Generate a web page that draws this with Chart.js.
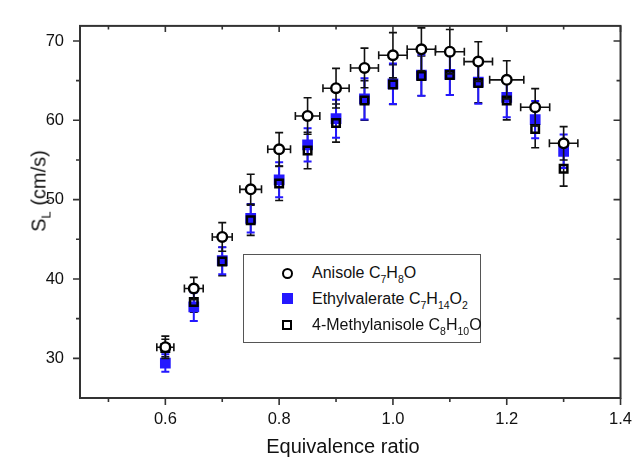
<!DOCTYPE html>
<html>
<head>
<meta charset="utf-8">
<script src="https://cdn.jsdelivr.net/npm/chart.js@4.4.1/dist/chart.umd.min.js"></script>
<style>
  body { margin: 0; background: #fff; }
  #wrap { position: relative; width: 644px; height: 464px; font-family: "Liberation Sans", Arial, sans-serif; color: #111; }
  #c { position: absolute; left: 0; top: 0; }
  .atitle { position: absolute; font-size: 20px; line-height: 23px; white-space: nowrap; }
  #ytitle { left: 39px; top: 191px; transform: translate(-50%, -50%) rotate(-90deg); }
  #xtitle { left: 343px; top: 446px; transform: translate(-50%, -50%); }
  .atitle sub, #legend sub { line-height: 0; }
  #ytitle sub { font-size: 13px; vertical-align: -5px; }
  #legend { position: absolute; left: 243px; top: 254px; width: 238px; height: 89px; border: 1px solid #555; box-sizing: border-box; background: #fff; }
  .lrow { position: absolute; left: 0; height: 20px; width: 236px; }
  .lsym { position: absolute; box-sizing: border-box; }
  .ltxt { position: absolute; left: 68px; top: 0; font-size: 16px; line-height: 20px; white-space: nowrap; color: #111; }
  #legend sub { font-size: 10.5px; vertical-align: -5px; }
</style>
</head>
<body>
<div id="wrap">
  <canvas id="c" width="644" height="464"></canvas>
  <div id="ytitle" class="atitle">S<sub>L</sub> (cm/s)</div>
  <div id="xtitle" class="atitle">Equivalence ratio</div>
  <div id="legend"></div>
</div>
<script>
// ---------- data ----------
const phi = [0.6, 0.65, 0.7, 0.75, 0.8, 0.85, 0.9, 0.95, 1.0, 1.05, 1.1, 1.15, 1.2, 1.25, 1.3];

const anisole     = [31.4, 38.8, 45.3, 51.3, 56.35, 60.55, 64.05, 66.6, 68.2, 68.95, 68.65, 67.4, 65.1, 61.65, 57.1];
const anisoleErrY = [1.4, 1.4, 1.8, 1.9, 2.1, 2.3, 2.5, 2.5, 2.85, 2.7, 2.8, 2.5, 2.4, 2.35, 2.1];
const anisoleErrX = [0.015, 0.0165, 0.0175, 0.019, 0.02, 0.0215, 0.023, 0.0245, 0.025, 0.025, 0.0255, 0.025, 0.03, 0.0255, 0.025];

const ethylvalerate    = [29.4, 36.5, 42.3, 47.65, 52.5, 56.9, 60.2, 62.7, 64.6, 65.7, 65.8, 64.8, 62.9, 60.1, 56.1];
const ethylvalerateErr = [1.1, 1.8, 1.7, 1.8, 2.2, 2.1, 2.4, 2.6, 2.55, 2.6, 2.6, 2.7, 2.5, 2.35, 2.1];

const methylanisole    = [31.3, 37.1, 42.2, 47.4, 52.05, 56.2, 59.65, 62.5, 64.5, 65.6, 65.7, 64.7, 62.5, 58.9, 53.9];
const methylanisoleErr = [1.1, 1.3, 1.8, 1.9, 2.15, 2.3, 2.4, 2.5, 2.5, 2.5, 2.5, 2.5, 2.45, 2.35, 2.2];

const seriesLabels = ['Anisole C₇H₈O', 'Ethylvalerate C₇H₁₄O₂', '4-Methylanisole C₈H₁₀O'];

const xMajorTicks = [0.6, 0.8, 1.0, 1.2, 1.4];
const xMinorTicks = [0.5, 0.7, 0.9, 1.1, 1.3];
const xTickLabels = ['0.6', '0.8', '1.0', '1.2', '1.4'];
const yMajorTicks = [30, 40, 50, 60, 70];
const yMinorTicks = [35, 45, 55, 65];
const yTickLabels = ['30', '40', '50', '60', '70'];

const xMin = 0.45, xMax = 1.4, yMin = 25, yMax = 71.9;
const BLUE = '#2418ff';

// ---------- plugins ----------
function drawErrors(chart, ds) {
  const xs = chart.scales.x, ys = chart.scales.y, a = chart.chartArea;
  const c = chart.ctx;
  c.save();
  c.beginPath(); c.rect(a.left, a.top, a.right - a.left, a.bottom - a.top); c.clip();
  c.strokeStyle = ds.errColor; c.lineWidth = ds.errWidth; c.lineCap = 'butt';
  const cap = 4;
  ds.data.forEach((p, i) => {
    const px = xs.getPixelForValue(p.x), py = ys.getPixelForValue(p.y);
    c.beginPath();
    if (ds.errY) {
      const t = ys.getPixelForValue(p.y + ds.errY[i]), b = ys.getPixelForValue(p.y - ds.errY[i]);
      c.moveTo(px, t); c.lineTo(px, b);
      c.moveTo(px - cap, t); c.lineTo(px + cap, t);
      c.moveTo(px - cap, b); c.lineTo(px + cap, b);
    }
    if (ds.errX) {
      const l = xs.getPixelForValue(p.x - ds.errX[i]), r = xs.getPixelForValue(p.x + ds.errX[i]);
      c.moveTo(l, py); c.lineTo(r, py);
      c.moveTo(l, py - cap); c.lineTo(l, py + cap);
      c.moveTo(r, py - cap); c.lineTo(r, py + cap);
    }
    c.stroke();
  });
  c.restore();
}

const errorBars = {
  id: 'errorBars',
  // square-series error bars go under all symbols (methylanisole first, ethylvalerate over it)
  beforeDatasetsDraw(chart) {
    const d = chart.data.datasets;
    drawErrors(chart, d[2]);
    drawErrors(chart, d[1]);
  },
  // anisole error bars drawn just before the circles, over the squares
  beforeDatasetDraw(chart, args) {
    if (args.index === 0) drawErrors(chart, chart.data.datasets[0]);
  }
};

const frameTicks = {
  id: 'frameTicks',
  afterDraw(chart) {
    const xs = chart.scales.x, ys = chart.scales.y, a = chart.chartArea;
    const c = chart.ctx;
    c.save();
    c.strokeStyle = '#333'; c.lineWidth = 2;
    c.strokeRect(a.left, a.top, a.right - a.left, a.bottom - a.top);
    c.lineWidth = 1.6;
    c.beginPath();
    xMajorTicks.forEach(v => { const x = xs.getPixelForValue(v);
      c.moveTo(x, a.bottom); c.lineTo(x, a.bottom + 7);
      c.moveTo(x, a.top); c.lineTo(x, a.top + 6); });
    xMinorTicks.forEach(v => { const x = xs.getPixelForValue(v);
      c.moveTo(x, a.bottom); c.lineTo(x, a.bottom + 4);
      c.moveTo(x, a.top); c.lineTo(x, a.top + 3.5); });
    yMajorTicks.forEach(v => { const y = ys.getPixelForValue(v);
      c.moveTo(a.left, y); c.lineTo(a.left - 7, y);
      c.moveTo(a.right, y); c.lineTo(a.right - 7, y); });
    yMinorTicks.forEach(v => { const y = ys.getPixelForValue(v);
      c.moveTo(a.left, y); c.lineTo(a.left - 4, y);
      c.moveTo(a.right, y); c.lineTo(a.right - 4, y); });
    c.stroke();
    c.restore();
  }
};

const font = { family: '"Liberation Sans", Arial, sans-serif', size: 16.5 };

const chart = new Chart(document.getElementById('c'), {
  type: 'scatter',
  data: {
    datasets: [
      { label: seriesLabels[0], data: phi.map((x, i) => ({ x, y: anisole[i] })),
        pointStyle: 'circle', pointRadius: 4.8, pointBorderWidth: 2.4,
        borderColor: '#000', backgroundColor: '#fff', order: 0,
        errY: anisoleErrY, errX: anisoleErrX, errColor: '#111', errWidth: 1.6 },
      { label: seriesLabels[1], data: phi.map((x, i) => ({ x, y: ethylvalerate[i] })),
        pointStyle: 'rect', pointRadius: 7.6, pointBorderWidth: 0,
        borderColor: BLUE, backgroundColor: BLUE, order: 2,
        errY: ethylvalerateErr, errColor: BLUE, errWidth: 2 },
      { label: seriesLabels[2], data: phi.map((x, i) => ({ x, y: methylanisole[i] })),
        pointStyle: 'rect', pointRadius: 5.3, pointBorderWidth: 2.5,
        borderColor: '#000', backgroundColor: 'rgba(0,0,0,0)', order: 1,
        errY: methylanisoleErr, errColor: '#111', errWidth: 1.6 }
    ]
  },
  options: {
    responsive: false, animation: false, devicePixelRatio: 1, events: [],
    layout: { padding: { left: 0, right: 17, top: 9, bottom: 0 } },
    plugins: { legend: { display: false }, tooltip: { enabled: false } },
    scales: {
      x: {
        type: 'linear', min: xMin, max: xMax,
        afterBuildTicks: s => { s.ticks = xMajorTicks.map(v => ({ value: v })); },
        afterFit: s => { s.height = 66; },
        grid: { display: false, drawTicks: false }, border: { display: false },
        ticks: { font, color: '#111', padding: 12, maxRotation: 0, autoSkip: false,
                 callback: (v, i) => xTickLabels[i] }
      },
      y: {
        type: 'linear', min: yMin, max: yMax,
        afterBuildTicks: s => { s.ticks = yMajorTicks.map(v => ({ value: v })); },
        afterFit: s => { s.width = 80; },
        grid: { display: false, drawTicks: false }, border: { display: false },
        ticks: { font, color: '#111', padding: 16, autoSkip: false,
                 callback: (v, i) => yTickLabels[i] }
      }
    }
  },
  plugins: [errorBars, frameTicks]
});

// ---------- HTML legend built from datasets ----------
const subMap = { '₀':'0','₁':'1','₂':'2','₃':'3','₄':'4','₅':'5','₆':'6','₇':'7','₈':'8','₉':'9' };
function toHtml(s) {
  return s.replace(/[₀-₉]+/g, m => '<sub>' + m.split('').map(ch => subMap[ch]).join('') + '</sub>');
}
const legend = document.getElementById('legend');
const rowCenters = [18, 43.5, 70];
chart.data.datasets.forEach((ds, i) => {
  const row = document.createElement('div');
  row.className = 'lrow';
  row.style.top = (rowCenters[i] - 10) + 'px';
  const sym = document.createElement('span');
  sym.className = 'lsym';
  let size;
  if (ds.pointStyle === 'circle') {
    size = 11; sym.style.borderRadius = '50%';
    sym.style.border = '2.4px solid ' + ds.borderColor; sym.style.background = ds.backgroundColor;
  } else if (ds.pointBorderWidth > 0) {
    size = 10; sym.style.border = ds.pointBorderWidth + 'px solid ' + ds.borderColor; sym.style.background = '#fff';
  } else {
    size = 11; sym.style.background = ds.backgroundColor;
  }
  sym.style.width = size + 'px'; sym.style.height = size + 'px';
  sym.style.left = (43 - size / 2) + 'px'; sym.style.top = (10 - size / 2) + 'px';
  const txt = document.createElement('span');
  txt.className = 'ltxt';
  txt.innerHTML = toHtml(ds.label);
  row.appendChild(sym); row.appendChild(txt);
  legend.appendChild(row);
});
</script>
</body>
</html>
